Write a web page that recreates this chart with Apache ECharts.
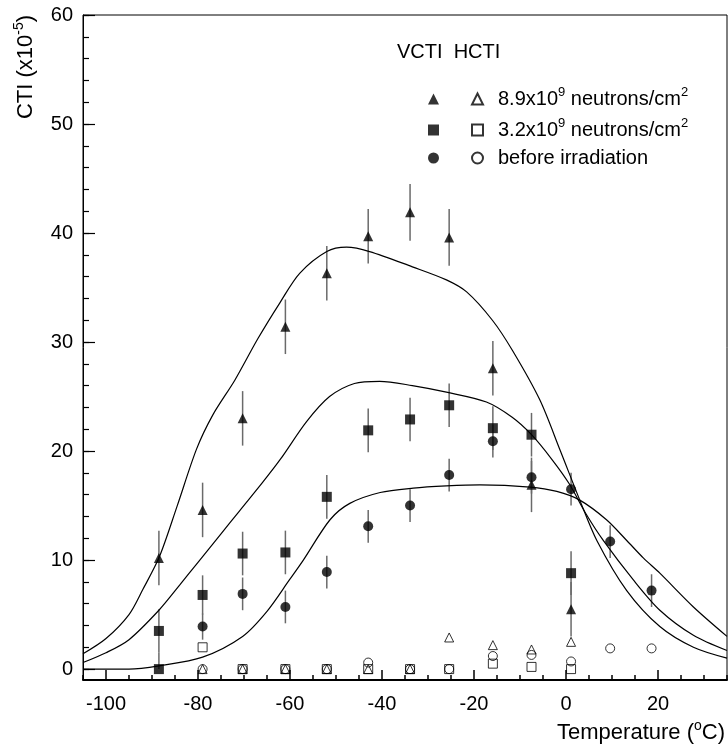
<!DOCTYPE html>
<html>
<head>
<meta charset="utf-8">
<script src="https://cdn.jsdelivr.net/npm/echarts@6/dist/echarts.min.js"></script>
<style>
html,body{margin:0;padding:0;background:#fff;}
#chart{width:728px;height:749px;}
</style>
</head>
<body>
<div id="chart"></div>
<script>
// ---------- data ----------
// VCTI (filled) - 8.9e9 neutrons/cm2
const vTriX   = [-88.5, -79.0, -70.3, -61.0, -52.0, -43.0, -33.9, -25.4, -15.9, -7.5, 1.1];
const vTriY   = [10.2, 14.6, 23.0, 31.4, 36.3, 39.7, 41.9, 39.6, 27.6, 16.9, 5.5];
const vTriErr = [2.5, 2.5, 2.5, 2.5, 2.5, 2.5, 2.6, 2.6, 2.5, 2.5, 2.5];
// VCTI (filled) - 3.2e9 neutrons/cm2
const vSqX    = [-88.5, -88.5, -79.0, -70.3, -61.0, -52.0, -43.0, -33.9, -25.4, -15.9, -7.5, 1.1];
const vSqY    = [3.5, 0.0, 6.8, 10.6, 10.7, 15.8, 21.9, 22.9, 24.2, 22.1, 21.5, 8.8];
const vSqErr  = [2.0, 1.5, 1.8, 2.0, 2.0, 2.0, 2.0, 2.0, 2.0, 2.0, 2.0, 2.0];
// VCTI (filled) - before irradiation
const vCiX    = [-79.0, -70.3, -61.0, -52.0, -43.0, -33.9, -25.4, -15.9, -7.5, 1.1, 9.6, 18.6];
const vCiY    = [3.9, 6.9, 5.7, 8.9, 13.1, 15.0, 17.8, 20.9, 17.6, 16.5, 11.7, 7.2];
const vCiErr  = [1.2, 1.5, 1.5, 1.5, 1.5, 1.5, 1.5, 1.5, 1.5, 1.5, 1.5, 1.5];

// HCTI (open)
const hTriX = [-79.0, -70.3, -61.0, -52.0, -43.0, -33.9, -25.4, -15.9, -7.5, 1.1];
const hTriY = [0, 0, 0, 0, 0, 0, 2.9, 2.2, 1.8, 2.5];
const hSqX  = [-79.0, -70.3, -61.0, -52.0, -43.0, -33.9, -25.4, -15.9, -7.5, 1.1];
const hSqY  = [2.0, 0, 0, 0, 0, 0, 0, 0.5, 0.2, 0.0];
const hCiX  = [-79.0, -70.3, -61.0, -52.0, -43.0, -33.9, -25.4, -15.9, -7.5, 1.1, 9.6, 18.6];
const hCiY  = [0, 0, 0, 0, 0.6, 0, 0, 1.2, 1.3, 0.7, 1.9, 1.9];

// fitted curves
const fitTriX = [-105, -100, -95, -92, -88.4, -84.5, -80.3, -76.8, -72, -67, -62.2, -57.9, -52, -47.7, -42.7, -33.4, -26, -21.6, -16, -11.6, -5.7, -1.3, 3, 6.7, 13.2, 20.4, 27.7, 35];
const fitTriY = [1.4, 2.8, 5.0, 7.3, 10.3, 15.0, 20.2, 23.3, 26.5, 30.3, 33.6, 36.3, 38.3, 38.7, 38.3, 36.9, 35.7, 34.6, 32.0, 29.2, 24.7, 20.1, 15.5, 11.8, 7.2, 3.9, 2.0, 1.0];
const fitSqX  = [-105, -100, -95, -88.5, -84, -80, -75, -71, -66, -62, -56.4, -51.4, -46, -40.5, -33.4, -26, -17.3, -11.7, -7.5, -3, 0.7, 4.4, 8.1, 14.6, 20.4, 27.7, 35];
const fitSqY  = [0.6, 1.5, 2.7, 5.4, 7.7, 9.8, 12.4, 14.5, 17.1, 19.3, 22.7, 25.0, 26.2, 26.4, 26.0, 25.4, 24.5, 23.1, 21.5, 19.2, 17.0, 14.2, 11.8, 8.2, 5.4, 3.1, 1.7];
const fitCiX  = [-105, -95, -88.5, -79, -70.3, -65, -60.1, -57.1, -51.3, -47, -40.4, -33.2, -26, -18.7, -7.8, -2, 3, 8.8, 13.2, 16.8, 20.4, 27.7, 35];
const fitCiY  = [0.0, 0.0, 0.3, 1.1, 3.0, 5.3, 8.2, 10.0, 13.7, 15.2, 16.2, 16.6, 16.8, 16.9, 16.7, 16.3, 15.5, 13.7, 11.8, 10.2, 8.8, 5.7, 3.0];

// axis ticks / labels
const xMin = -105, xMax = 35, yMin = -1, yMax = 60;
const xMajor = [-100, -80, -60, -40, -20, 0, 20];
const yMajor = [0, 10, 20, 30, 40, 50, 60];
const xMinor = []; for (let v = -105; v <= 35; v += 5) xMinor.push(v);
const yMinor = []; for (let v = 0; v <= 60; v += 2) yMinor.push(v);

const legendTexts = {
  H89: '{n|8.9x10}{s|9}{n| neutrons/cm}{s|2}',
  H32: '{n|3.2x10}{s|9}{n| neutrons/cm}{s|2}',
  H0:  '{n|before irradiation}',
  V89: '{n|8.9x10}{s|9}{n| neutrons/cm}{s|2}',
  V32: '{n|3.2x10}{s|9}{n| neutrons/cm}{s|2}',
  V0:  '{n|before irradiation}'
};

// ---------- chart ----------
const FONT = 'Liberation Sans, Arial, Helvetica, sans-serif';
const pairs = (xs, ys) => xs.map((x, i) => [x, ys[i]]);
// error bars are cut at the lower edge of the frame, as in the reference
const errs = (xs, ys, es) => xs.map((x, i) => [x, Math.max(0, ys[i] - es[i]), ys[i] + es[i]]);

function renderErr(params, api) {
  const p1 = api.coord([api.value(0), api.value(1)]);
  const p2 = api.coord([api.value(0), api.value(2)]);
  return { type: 'line', shape: { x1: p1[0], y1: p1[1], x2: p2[0], y2: p2[1] },
           style: { stroke: '#6a6a6a', lineWidth: 1.5 } };
}
const errSeries = (data) => ({ type: 'custom', renderItem: renderErr, data: data, clip: true,
  encode: { x: 0, y: [1, 2] }, z: 1, silent: true });

const filled = (name, sym, xs, ys) => ({ name, type: 'scatter', symbol: sym, symbolSize: 10,
  data: pairs(xs, ys), itemStyle: { color: '#000' }, z: 3 });
const open = (name, sym, xs, ys) => ({ name, type: 'scatter', symbol: sym, symbolSize: 9,
  data: pairs(xs, ys), itemStyle: { color: 'rgba(0,0,0,0)', borderColor: '#000', borderWidth: 1 }, z: 4 });
const curve = (xs, ys) => ({ type: 'line', data: pairs(xs, ys), showSymbol: false, smooth: 0.3,
  lineStyle: { color: '#000', width: 1.2 }, z: 2, silent: true });

const mkRich = (col) => ({
  n: { fontSize: 20, lineHeight: 26, fontFamily: FONT, color: col },
  s: { fontSize: 13, lineHeight: 13, verticalAlign: 'top', fontFamily: FONT, color: col }
});

const chart = echarts.init(document.getElementById('chart'), null, { renderer: 'canvas' });
chart.setOption({
  animation: false,
  backgroundColor: '#fff',
  grid: { left: 83, right: 1, top: 15, bottom: 69, show: true, borderColor: '#000', borderWidth: 1 },
  xAxis: [
    { type: 'value', min: xMin, max: xMax, position: 'bottom',
      axisLine: { show: true, onZero: false, lineStyle: { color: '#000', width: 2 } },
      axisTick: { show: true, inside: true, length: 10, customValues: xMajor, lineStyle: { color: '#000', width: 1.5 } },
      axisLabel: { show: true, customValues: xMajor, color: '#000', fontSize: 20, fontFamily: FONT, margin: 14 },
      splitLine: { show: false } },
    { type: 'value', min: xMin, max: xMax, position: 'bottom',
      axisLine: { show: false, onZero: false },
      axisTick: { show: true, inside: true, length: 5, customValues: xMinor, lineStyle: { color: '#000', width: 1.5 } },
      axisLabel: { show: false }, splitLine: { show: false } }
  ],
  yAxis: [
    { type: 'value', min: yMin, max: yMax, position: 'left',
      axisLine: { show: true, onZero: false, lineStyle: { color: '#000', width: 1 } },
      axisTick: { show: true, inside: true, length: 12, customValues: yMajor, lineStyle: { color: '#000', width: 1.2 } },
      axisLabel: { show: true, customValues: yMajor, color: '#000', fontSize: 20, fontFamily: FONT, margin: 10 },
      splitLine: { show: false } },
    { type: 'value', min: yMin, max: yMax, position: 'left',
      axisLine: { show: false, onZero: false },
      axisTick: { show: true, inside: true, length: 6, customValues: yMinor, lineStyle: { color: '#000', width: 1.2 } },
      axisLabel: { show: false }, splitLine: { show: false } }
  ],
  legend: [
    { data: ['V89', 'V32', 'V0'], orient: 'vertical', left: 423, top: 81, itemWidth: 11, itemHeight: 11,
      itemGap: 8, selectedMode: false, formatter: (n) => legendTexts[n],
      textStyle: { rich: mkRich('rgba(0,0,0,0)'), padding: [0, 0, 0, 10] } },
    { data: ['H89', 'H32', 'H0'], orient: 'vertical', left: 466, top: 81, itemWidth: 11, itemHeight: 11,
      itemGap: 8, selectedMode: false, formatter: (n) => legendTexts[n],
      textStyle: { rich: mkRich('#000'), padding: [0, 0, 0, 10] } }
  ],
  graphic: [
    { type: 'text', left: 397, top: 42, silent: true,
      style: { text: 'VCTI  HCTI', fontSize: 20, fontFamily: FONT, fill: '#000' } },
    { type: 'text', right: 3, top: 719, silent: true,
      style: { text: '{n|Temperature (}{s|o}{n|C)}', fill: '#000',
        rich: { n: { fontSize: 22, lineHeight: 28, fontFamily: FONT, color: '#000' },
                s: { fontSize: 14, lineHeight: 14, verticalAlign: 'top', fontFamily: FONT, color: '#000' } } } },
    { type: 'text', x: 26, y: 15, rotation: Math.PI / 2, silent: true,
      style: { text: '{n|CTI (x10}{s|-5}{n|)}', align: 'right', verticalAlign: 'middle', fill: '#000',
        rich: { n: { fontSize: 22, lineHeight: 28, fontFamily: FONT, color: '#000' },
                s: { fontSize: 14, lineHeight: 14, verticalAlign: 'top', fontFamily: FONT, color: '#000' } } } }
  ],
  series: [
    curve(fitTriX, fitTriY),
    curve(fitSqX, fitSqY),
    curve(fitCiX, fitCiY),
    errSeries(errs(vTriX, vTriY, vTriErr)),
    errSeries(errs(vSqX, vSqY, vSqErr)),
    errSeries(errs(vCiX, vCiY, vCiErr)),
    filled('V89', 'triangle', vTriX, vTriY),
    filled('V32', 'rect', vSqX, vSqY),
    filled('V0', 'circle', vCiX, vCiY),
    open('H89', 'triangle', hTriX, hTriY),
    open('H32', 'rect', hSqX, hSqY),
    open('H0', 'circle', hCiX, hCiY)
  ]
});
</script>
</body>
</html>
